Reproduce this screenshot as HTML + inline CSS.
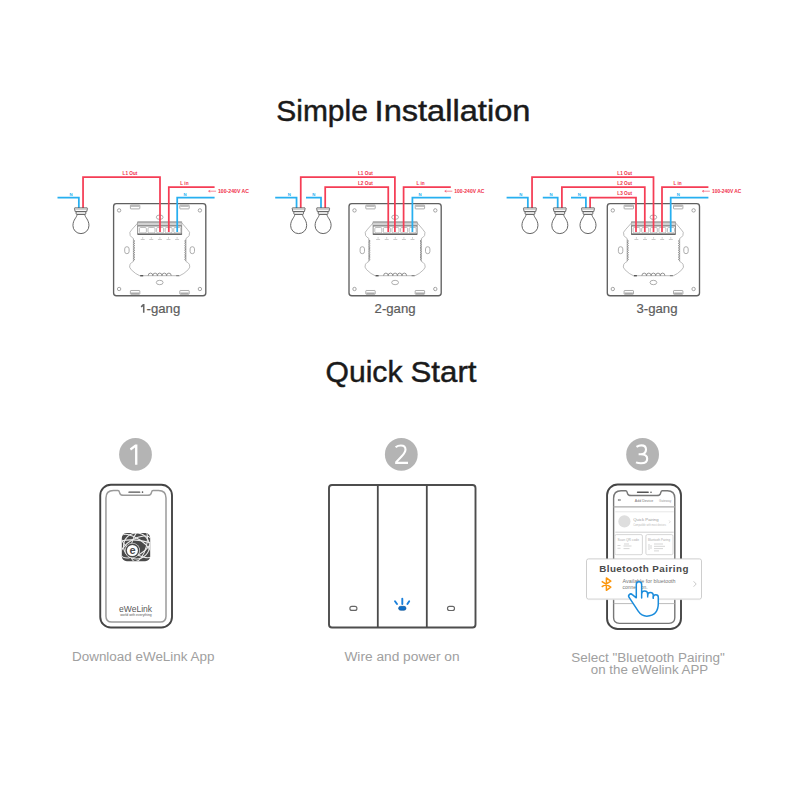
<!DOCTYPE html>
<html><head><meta charset="utf-8"><style>
html,body{margin:0;padding:0;background:#fff;width:800px;height:800px;overflow:hidden}
svg{display:block}
</style></head><body>
<svg width="800" height="800" viewBox="0 0 800 800" font-family="'Liberation Sans', sans-serif">

<defs>
<g id="plate">
  <rect x="-46.1" y="-46.1" width="92.2" height="92.2" rx="2.8" fill="#fff" stroke="#606060" stroke-width="1.35"/>
  <g fill="none" stroke="#888" stroke-width="0.75">
    <circle cx="-40.6" cy="-39.3" r="1.7"/>
    <circle cx="40.2" cy="-39.3" r="1.7"/>
    <circle cx="-40.6" cy="39.3" r="1.7"/>
    <circle cx="40.2" cy="39.3" r="1.7"/>
  </g>
  <g fill="#fff" stroke="#8a8a8a" stroke-width="0.7">
    <rect x="-29.3" y="-44.6" width="9.4" height="3.8" rx="0.6"/>
    <rect x="20.1" y="-44.6" width="9.4" height="3.8" rx="0.6"/>
    <rect x="-29.3" y="40.8" width="9.4" height="3.8" rx="0.6"/>
    <rect x="20.1" y="40.8" width="9.4" height="3.8" rx="0.6"/>
  </g>
  <g fill="none" stroke="#999" stroke-width="0.5">
    <path d="M-28.7,-43.6 H-20.5 M20.7,-43.6 H28.9 M-28.7,43.6 H-20.5 M20.7,43.6 H28.9" stroke="#aaa" stroke-width="1.4"/>
  </g>
  <g fill="none" stroke="#999" stroke-width="0.8">
    <ellipse cx="0" cy="-32.5" rx="3.4" ry="2.2"/>
    <ellipse cx="0" cy="32.8" rx="3.4" ry="2.2"/>
    <rect x="-35" y="-3" width="4.4" height="7" rx="2.2"/>
    <rect x="30.4" y="-3" width="4.4" height="7" rx="2.2"/>
  </g>
  <g fill="none" stroke="#aaa" stroke-width="0.8">
    <path d="M-21.7,-27 L-27.5,-20.5 Q-31.2,-17.5 -29.5,-14.2 Q-28.3,-12.3 -26.3,-11.3 L-26.3,11.8 Q-28.3,12.6 -29.6,14.5 Q-31.2,17.5 -28.5,20 Q-24,24.5 -20,26 L20,26 Q24,24.5 28.5,20 Q31.2,17.5 29.6,14.5 Q28.3,12.6 26.3,11.8 L26.3,-11.3 Q28.3,-12.3 29.5,-14.2 Q31.2,-17.5 27.5,-20.5 L22,-27"/>
  </g>
  <g fill="none" stroke="#7a7a7a" stroke-width="0.8">
    <path d="M-26.3,-9.8 q2.8,1.1 0,2.3 q2.8,1.1 0,2.3 q2.8,1.1 0,2.3 q2.8,1.1 0,2.3 q2.8,1.1 0,2.3 q2.8,1.1 0,2.3 q2.8,1.1 0,2.3 q2.8,1.1 0,2.3 q2.8,1.1 0,2.3"/>
    <path d="M26.3,-9.8 q-2.8,1.1 0,2.3 q-2.8,1.1 0,2.3 q-2.8,1.1 0,2.3 q-2.8,1.1 0,2.3 q-2.8,1.1 0,2.3 q-2.8,1.1 0,2.3 q-2.8,1.1 0,2.3 q-2.8,1.1 0,2.3 q-2.8,1.1 0,2.3"/>
    <path d="M-11.5,26 a2.3,2.6 0 0 1 4.6,0 a2.3,2.6 0 0 1 4.6,0 a2.3,2.6 0 0 1 4.6,0 a2.3,2.6 0 0 1 4.6,0 a2.3,2.6 0 0 1 4.6,0"/>
  </g>
  <path d="M-19.5,26 h3" stroke="#555" stroke-width="1.4"/>
  <path d="M16.5,26 h3" stroke="#777" stroke-width="1"/>
  <rect x="-22" y="-27.6" width="44" height="12.2" fill="#fff" stroke="#777" stroke-width="0.8"/>
  <rect x="-22" y="-27.6" width="44" height="3.8" fill="#d2d2d2"/>
  <path d="M-22,-27.6 H22" stroke="#8a8a8a" stroke-width="0.9"/>
  <path d="M-22,-23.8 H22" stroke="#666" stroke-width="1"/>
  <path d="M-22,-15.5 H22" stroke="#555" stroke-width="1.3"/>
  <g fill="none" stroke="#a0a0a0" stroke-width="0.7">
    <rect x="-20.3" y="-22.2" width="7" height="5.4" rx="1.2"/>
    <rect x="-11.7" y="-22.2" width="7" height="5.4" rx="1.2"/>
    <rect x="-3.1" y="-22.2" width="7" height="5.4" rx="1.2"/>
    <rect x="5.5" y="-22.2" width="7" height="5.4" rx="1.2"/>
    <rect x="14.1" y="-22.2" width="7" height="5.4" rx="1.2"/>
  </g>
  <g stroke="#999" stroke-width="0.5" fill="none">
    <path d="M-17,-12.5 v1.5 M-19,-10.2 h4 M-8.4,-12.5 v1.5 M-10.4,-10.2 h4 M0.2,-12.5 v1.5 M-1.8,-10.2 h4 M8.8,-12.5 v1.5 M6.8,-10.2 h4 M17.4,-12.5 v1.5 M15.4,-10.2 h4"/>
  </g>
</g>
<g id="bulb" fill="#fff" stroke="#555" stroke-width="0.9">
  <path d="M-3.9,214.3 C-3.9,217.5 -8,219.5 -8,225.6 A8,8 0 0 0 8,225.6 C8,219.5 3.9,217.5 3.9,214.3 Z"/>
  <rect x="-4.8" y="211.6" width="9.6" height="2.7" rx="0.6"/>
  <path d="M-6.3,207.9 H6.3 Q6.6,207.9 6.4,208.6 L5.8,211.6 H-5.8 L-6.4,208.6 Q-6.6,207.9 -6.3,207.9 Z"/>
  <line x1="-5.6" y1="209.6" x2="5.6" y2="209.6" stroke-width="0.5" stroke="#999"/>
</g>
</defs>

<rect width="800" height="800" fill="#fff"/>
<text x="276.3" y="120.9" font-size="29" fill="#1a1a1a" stroke="#1a1a1a" stroke-width="0.45" textLength="91.5" lengthAdjust="spacingAndGlyphs">Simple</text>
<text x="374.6" y="120.9" font-size="29" fill="#1a1a1a" stroke="#1a1a1a" stroke-width="0.45" textLength="155.8" lengthAdjust="spacingAndGlyphs">Installation</text>
<text x="325.5" y="381.5" font-size="29" fill="#1a1a1a" stroke="#1a1a1a" stroke-width="0.45" textLength="77" lengthAdjust="spacingAndGlyphs">Quick</text>
<text x="410.5" y="381.5" font-size="29" fill="#1a1a1a" stroke="#1a1a1a" stroke-width="0.45" textLength="66" lengthAdjust="spacingAndGlyphs">Start</text>
<use href="#plate" x="159.7" y="249.7"/>
<path d="M57.5,197.5 L78.85000000000001,197.5 L78.85000000000001,208" fill="none" stroke="#27aff0" stroke-width="1.75" stroke-linejoin="miter"/>
<path d="M83.05,208 L83.05,177 L160,177 L160,232" fill="none" stroke="#f53d55" stroke-width="1.75" stroke-linejoin="miter"/>
<path d="M168.8,232 L168.8,187 L214.6,187" fill="none" stroke="#f53d55" stroke-width="1.75" stroke-linejoin="miter"/>
<path d="M177.2,232 L177.2,197.5 L214.6,197.5" fill="none" stroke="#27aff0" stroke-width="1.75" stroke-linejoin="miter"/>
<path d="M208.6,191.2 H216.1 M208.6,191.2 l1.6,-1 M208.6,191.2 l1.6,1" stroke="#f53d55" stroke-width="0.6" fill="none"/>
<text x="218" y="193.0" font-size="5" font-weight="bold" fill="#f0304a" textLength="31" lengthAdjust="spacingAndGlyphs">100-240V AC</text>
<use href="#bulb" x="80.95" y="0"/>
<text x="130" y="175.0" font-size="4.7" font-weight="bold" fill="#f0304a" text-anchor="middle">L1 Out</text>
<text x="184.4" y="185.0" font-size="4.7" font-weight="bold" fill="#f0304a" text-anchor="middle">L in</text>
<text x="71" y="195.5" font-size="4.3" font-weight="bold" fill="#27aff0" text-anchor="middle">N</text>
<text x="185" y="195.5" font-size="4.3" font-weight="bold" fill="#27aff0" text-anchor="middle">N</text>
<use href="#plate" x="395.1" y="249.7"/>
<path d="M275.2,197.5 L296.54999999999995,197.5 L296.54999999999995,208" fill="none" stroke="#27aff0" stroke-width="1.75" stroke-linejoin="miter"/>
<path d="M306,197.5 L321.0,197.5 L321.0,208" fill="none" stroke="#27aff0" stroke-width="1.75" stroke-linejoin="miter"/>
<path d="M300.75,208 L300.75,177 L394.9,177 L394.9,232" fill="none" stroke="#f53d55" stroke-width="1.75" stroke-linejoin="miter"/>
<path d="M325.20000000000005,208 L325.20000000000005,187 L388.25,187 L388.25,232" fill="none" stroke="#f53d55" stroke-width="1.75" stroke-linejoin="miter"/>
<path d="M403.6,232 L403.6,187 L450.8,187" fill="none" stroke="#f53d55" stroke-width="1.75" stroke-linejoin="miter"/>
<path d="M412.4,232 L412.4,197.5 L450.8,197.5" fill="none" stroke="#27aff0" stroke-width="1.75" stroke-linejoin="miter"/>
<path d="M444.8,191.2 H452.3 M444.8,191.2 l1.6,-1 M444.8,191.2 l1.6,1" stroke="#f53d55" stroke-width="0.6" fill="none"/>
<text x="454.3" y="193.0" font-size="5" font-weight="bold" fill="#f0304a" textLength="30.19999999999999" lengthAdjust="spacingAndGlyphs">100-240V AC</text>
<use href="#bulb" x="298.65" y="0"/>
<use href="#bulb" x="323.1" y="0"/>
<text x="365.4" y="175.0" font-size="4.7" font-weight="bold" fill="#f0304a" text-anchor="middle">L1 Out</text>
<text x="365.4" y="185.0" font-size="4.7" font-weight="bold" fill="#f0304a" text-anchor="middle">L2 Out</text>
<text x="420.6" y="185.0" font-size="4.7" font-weight="bold" fill="#f0304a" text-anchor="middle">L in</text>
<text x="289.3" y="195.5" font-size="4.3" font-weight="bold" fill="#27aff0" text-anchor="middle">N</text>
<text x="313.7" y="195.5" font-size="4.3" font-weight="bold" fill="#27aff0" text-anchor="middle">N</text>
<text x="420" y="195.5" font-size="4.3" font-weight="bold" fill="#27aff0" text-anchor="middle">N</text>
<use href="#plate" x="653.4" y="249.7"/>
<path d="M506.6,197.5 L527.85,197.5 L527.85,208" fill="none" stroke="#27aff0" stroke-width="1.75" stroke-linejoin="miter"/>
<path d="M542.8,197.5 L557.6999999999999,197.5 L557.6999999999999,208" fill="none" stroke="#27aff0" stroke-width="1.75" stroke-linejoin="miter"/>
<path d="M571,197.5 L585.9,197.5 L585.9,208" fill="none" stroke="#27aff0" stroke-width="1.75" stroke-linejoin="miter"/>
<path d="M532.0500000000001,208 L532.0500000000001,177 L653.5,177 L653.5,232" fill="none" stroke="#f53d55" stroke-width="1.75" stroke-linejoin="miter"/>
<path d="M561.9,208 L561.9,187 L644.8,187 L644.8,232" fill="none" stroke="#f53d55" stroke-width="1.75" stroke-linejoin="miter"/>
<path d="M590.1,208 L590.1,197.5 L636,197.5 L636,232" fill="none" stroke="#f53d55" stroke-width="1.75" stroke-linejoin="miter"/>
<path d="M662,232 L662,187 L708.4,187" fill="none" stroke="#f53d55" stroke-width="1.75" stroke-linejoin="miter"/>
<path d="M670.7,232 L670.7,197.5 L708.4,197.5" fill="none" stroke="#27aff0" stroke-width="1.75" stroke-linejoin="miter"/>
<path d="M702.4,191.2 H709.9 M702.4,191.2 l1.6,-1 M702.4,191.2 l1.6,1" stroke="#f53d55" stroke-width="0.6" fill="none"/>
<text x="712" y="193.0" font-size="5" font-weight="bold" fill="#f0304a" textLength="29.399999999999977" lengthAdjust="spacingAndGlyphs">100-240V AC</text>
<use href="#bulb" x="529.95" y="0"/>
<use href="#bulb" x="559.8" y="0"/>
<use href="#bulb" x="588.0" y="0"/>
<text x="624.7" y="175.0" font-size="4.7" font-weight="bold" fill="#f0304a" text-anchor="middle">L1 Out</text>
<text x="624.7" y="185.0" font-size="4.7" font-weight="bold" fill="#f0304a" text-anchor="middle">L2 Out</text>
<text x="624.7" y="195.3" font-size="4.7" font-weight="bold" fill="#f0304a" text-anchor="middle">L3 Out</text>
<text x="677.6" y="185.0" font-size="4.7" font-weight="bold" fill="#f0304a" text-anchor="middle">L in</text>
<text x="520.8" y="195.5" font-size="4.3" font-weight="bold" fill="#27aff0" text-anchor="middle">N</text>
<text x="551" y="195.5" font-size="4.3" font-weight="bold" fill="#27aff0" text-anchor="middle">N</text>
<text x="579.3" y="195.5" font-size="4.3" font-weight="bold" fill="#27aff0" text-anchor="middle">N</text>
<text x="678.4" y="195.5" font-size="4.3" font-weight="bold" fill="#27aff0" text-anchor="middle">N</text>
<text x="395.1" y="312.9" font-size="13.2" fill="#5c5c5c" stroke="#5c5c5c" stroke-width="0.2" text-anchor="middle" textLength="41" lengthAdjust="spacingAndGlyphs">2-gang</text>
<text x="657" y="312.9" font-size="13.2" fill="#5c5c5c" stroke="#5c5c5c" stroke-width="0.2" text-anchor="middle" textLength="41" lengthAdjust="spacingAndGlyphs">3-gang</text>
<path d="M142.95,304 H144.5 V312.8 H142.95 V306.4 L141.3,307.5 L140.7,306.2 Z" fill="#666"/>
<text x="146.6" y="312.9" font-size="13.2" fill="#5c5c5c" stroke="#5c5c5c" stroke-width="0.2" textLength="33.6" lengthAdjust="spacingAndGlyphs">-gang</text>
<circle cx="135.5" cy="454.4" r="16.4" fill="#b4b4b4"/>
<path d="M135.1,444.6 H137.4 V464.85 H135.05 V447.6 L131,450.5 L129.8,448.6 Z" fill="#fff"/>
<circle cx="401.3" cy="454.4" r="16.4" fill="#b4b4b4"/>
<path d="M395.6,447.2 C397.2,445.9 399,445.5 400.9,445.5 C403.8,445.5 405.5,447.2 405.5,449.6 C405.5,452.2 404,454 401.5,456.6 L396.2,462.1 V462.9 H408" fill="none" stroke="#fff" stroke-width="2.1"/>
<circle cx="642.6" cy="454.4" r="16.4" fill="#b4b4b4"/>
<path d="M636.5,446.9 C638,445.9 639.6,445.4 641.4,445.4 C644.4,445.4 646,447.1 646,449.5 C646,452.4 643.8,454.2 640.6,454.2 H638.6 M640.6,454.2 C644.9,454.2 647.2,456.1 647.2,458.7 C647.2,461.7 644.8,463.3 641,463.3 C639.1,463.3 637.4,463 636,462.4" fill="none" stroke="#fff" stroke-width="2.1"/>
<rect x="100.25" y="484.75" width="71.75" height="142.75" rx="10.6" fill="#fff" stroke="#454545" stroke-width="1.9"/>
<path d="M113.45,490.55 H117.9 C119.5,490.55 119.30000000000001,492.15000000000003 119.9,493.55 C120.5,495.35 121.9,495.35 123.4,495.35 H147.6 C149.1,495.35 150.5,495.35 151.1,493.55 C151.7,492.15000000000003 151.5,490.55 153.1,490.55 H158.5 Q166,490.55 166,498.05 V616.26 Q166,622.06 160.2,622.06 H111.75 Q105.95,622.06 105.95,616.26 V498.05 Q105.95,490.55 113.45,490.55 Z" fill="#fff" stroke="#9a9a9a" stroke-width="1.5"/>
<line x1="129.0" y1="492.15000000000003" x2="139.7" y2="492.15000000000003" stroke="#555" stroke-width="1.4" stroke-linecap="round"/>
<circle cx="142.5" cy="492.15000000000003" r="0.8" fill="#555"/>
<clipPath id="icoclip"><rect x="121.8" y="533" width="28.4" height="28.3" rx="5"/></clipPath>
<rect x="121.8" y="533" width="28.4" height="28.3" rx="5" fill="#4a4a4a"/>
<g clip-path="url(#icoclip)" fill="none" stroke="#ececec" stroke-width="1.05">
  <ellipse cx="136.5" cy="546" rx="18" ry="7" transform="rotate(35 136.5 546)"/>
  <ellipse cx="136" cy="547" rx="17" ry="8" transform="rotate(-30 136 547)"/>
  <ellipse cx="139" cy="545" rx="7.5" ry="17" transform="rotate(15 139 545)"/>
  <circle cx="136.5" cy="546" r="13"/>
  <path d="M121,541 Q134,538 151,543"/>
</g>
<circle cx="132.4" cy="550.5" r="7.6" fill="#ececec"/>
<circle cx="132.4" cy="550.5" r="6.9" fill="#4a4a4a"/>
<circle cx="132.4" cy="550.5" r="5.5" fill="#fff"/>
<text x="132.5" y="554.4" font-size="11" font-weight="bold" fill="#4a4a4a" text-anchor="middle">e</text>

<text x="135.6" y="611.9" font-size="9.6" fill="#585858" text-anchor="middle" textLength="33" lengthAdjust="spacingAndGlyphs">eWeLink</text>
<text x="135.9" y="615.9" font-size="3" fill="#555" text-anchor="middle" textLength="31.5" lengthAdjust="spacingAndGlyphs">world with everything</text>
<rect x="329" y="485" width="146.5" height="142.5" rx="3" fill="#fff" stroke="#4d4d4d" stroke-width="1.9"/>
<line x1="377.8" y1="485" x2="377.8" y2="627.5" stroke="#4a4a4a" stroke-width="1.8"/>
<line x1="426.8" y1="485" x2="426.8" y2="627.5" stroke="#4a4a4a" stroke-width="1.8"/>
<rect x="349.9" y="606.3" width="7" height="4.1" rx="2" fill="#fff" stroke="#666" stroke-width="1.15"/>
<rect x="447.5" y="606.4" width="7" height="4.1" rx="2" fill="#fff" stroke="#666" stroke-width="1.15"/>
<rect x="398.6" y="606.3" width="7.4" height="4" rx="2" fill="#0d6fc9" stroke="#0b4f91" stroke-width="0.6"/>
<g stroke="#1a80dc" stroke-width="1.9" stroke-linecap="round"><line x1="402.3" y1="598.8" x2="402.3" y2="604"/><line x1="395" y1="601.2" x2="397" y2="604"/><line x1="409.2" y1="601.2" x2="407.4" y2="604"/></g>
<rect x="607.06" y="484.5" width="73.94000000000005" height="144.5" rx="10.6" fill="#fff" stroke="#454545" stroke-width="1.9"/>
<path d="M621.1,490.7 H625.6 C627.2,490.7 627.0,492.3 627.6,493.7 C628.2,495.5 629.6,495.5 631.1,495.5 H656.9 C658.4,495.5 659.8,495.5 660.4,493.7 C661.0,492.3 660.8,490.7 662.4,490.7 H667.3 Q674.8,490.7 674.8,498.2 V617.6 Q674.8,623.4 669.0,623.4 H619.4 Q613.6,623.4 613.6,617.6 V498.2 Q613.6,490.7 621.1,490.7 Z" fill="#fff" stroke="#777" stroke-width="1.4"/>
<line x1="637.5" y1="492.3" x2="648.2" y2="492.3" stroke="#555" stroke-width="1.4" stroke-linecap="round"/>
<circle cx="651.0" cy="492.3" r="0.8" fill="#555"/>
<g fill="#777">
  <path d="M617.6,500 l1.6,-1.2 v0.8 h1.8 v0.8 h-1.8 v0.8 z"/>
  <text x="644" y="501.5" font-size="4.1" text-anchor="middle" textLength="18.4" lengthAdjust="spacingAndGlyphs">Add Device</text>
  <text x="665.2" y="501.5" font-size="3.4" text-anchor="middle" fill="#999" textLength="12.2" lengthAdjust="spacingAndGlyphs">Gateway</text>
</g>
<line x1="613.5" y1="506.8" x2="675" y2="506.8" stroke="#aaa" stroke-width="1.2"/>
<line x1="615.3" y1="511.8" x2="673.7" y2="511.8" stroke="#ddd" stroke-width="0.7"/>
<line x1="615.3" y1="532.2" x2="673.7" y2="532.2" stroke="#ccc" stroke-width="0.9"/>
<circle cx="624.4" cy="521.4" r="6.1" fill="#dedede"/>
<text x="633.2" y="521.2" font-size="4.2" fill="#999" textLength="25.4" lengthAdjust="spacingAndGlyphs">Quick Pairing</text>
<text x="633.2" y="525.6" font-size="2.6" fill="#bbb" textLength="32.8" lengthAdjust="spacingAndGlyphs">Compatible with most devices</text>
<path d="M669,520.4 l1.3,1.4 l-1.3,1.4" stroke="#ccc" stroke-width="0.6" fill="none"/>
<rect x="614.8" y="534.6" width="27.6" height="20.1" rx="1.5" fill="#fff" stroke="#ccc" stroke-width="0.8"/>
<rect x="645.9" y="534.6" width="27.1" height="20.1" rx="1.5" fill="#fff" stroke="#ccc" stroke-width="0.8"/>
<text x="617.5" y="540.6" font-size="3.2" fill="#aaa" textLength="21.5" lengthAdjust="spacingAndGlyphs">Scan QR code</text>
<text x="648" y="540.6" font-size="3.2" fill="#aaa" textLength="22" lengthAdjust="spacingAndGlyphs">Bluetooth Pairing</text>
<g stroke="#bbb" stroke-width="0.6" fill="none">
  <path d="M617.5,545.5 h3 M617.5,548.3 h3 M623.5,546 h8 M623.5,548.6 h6 M624,544 h5"/>
  <path d="M649,544 v6 M651,545 v4 M654,544 h9 M654,546.3 h11 M654,548.6 h9 M654,550.9 h5"/>
</g>
<line x1="613.5" y1="603.6" x2="675" y2="603.6" stroke="#aaa" stroke-width="0.8"/>

<rect x="586.5" y="558.9" width="115" height="40.2" rx="2" fill="#fff" stroke="#c8c8c8" stroke-width="0.9"/>
<line x1="588" y1="599.6" x2="700" y2="599.6" stroke="#e4e4e4" stroke-width="0.8"/>
<text x="643.8" y="572.2" font-size="9.8" font-weight="bold" fill="#4a4a4a" text-anchor="middle" textLength="89.3" lengthAdjust="spacing">Bluetooth Pairing</text>
<path d="M601.7,581.4 L610.8,587.1 L606.4,590.3 V577.9 L610.8,581.2 L601.7,586.9" fill="none" stroke="#fb960e" stroke-width="1.5" stroke-linejoin="round"/>
<text x="622.6" y="582.9" font-size="4.6" fill="#777" textLength="53" lengthAdjust="spacingAndGlyphs">Available for bluetooth</text>
<text x="622.6" y="589" font-size="4.6" fill="#777" textLength="25" lengthAdjust="spacingAndGlyphs">connection.</text>
<path d="M693.6,581.3 L696.2,584 L693.6,586.7" fill="none" stroke="#bbb" stroke-width="0.8"/>

<path d="M641.65,598 V584.4 A2.67,2.67 0 0 0 636.3,584.4 V597.8 L632.3,594.6 A2.1,2.1 0 0 0 629.3,597.6 L638.2,611.2 Q641.5,616.2 646.8,616.2 Q658.3,615.5 658.3,603.5 V597.2 A2.52,2.52 0 0 0 653.25,597.2 V595.3 A2.8,2.8 0 0 0 647.65,595.3 V594 A3,3 0 0 0 641.65,594 Z" fill="#fff" stroke="#1a8cdc" stroke-width="1.5" stroke-linejoin="round"/>
<path d="M647.65,594.5 V597.5 M653.25,596.5 V599" stroke="#1a8cdc" stroke-width="1.4" fill="none"/>
<text x="143.2" y="661" font-size="12.3" fill="#a0a0a0" text-anchor="middle" textLength="142.4" lengthAdjust="spacingAndGlyphs">Download eWeLink App</text>
<text x="402" y="661" font-size="12.3" fill="#a0a0a0" text-anchor="middle" textLength="115.2" lengthAdjust="spacingAndGlyphs">Wire and power on</text>
<text x="648" y="661.5" font-size="12.3" fill="#a0a0a0" text-anchor="middle" textLength="153.6" lengthAdjust="spacingAndGlyphs">Select "Bluetooth Pairing"</text>
<text x="649.5" y="673.5" font-size="12.3" fill="#a0a0a0" text-anchor="middle" textLength="117.5" lengthAdjust="spacingAndGlyphs">on the eWelink APP</text>
</svg>
</body></html>
